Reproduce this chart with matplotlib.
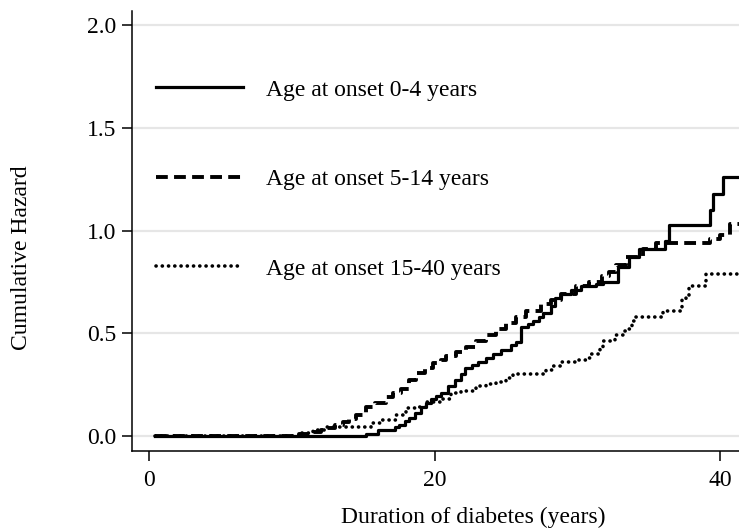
import matplotlib
matplotlib.use("Agg")
import matplotlib.pyplot as plt
from matplotlib.ticker import FormatStrFormatter

plt.rcParams['font.family'] = ['Liberation Serif', 'DejaVu Serif']
plt.rcParams['lines.scale_dashes'] = False

# Nelson-Aalen cumulative hazard, step points (years, hazard)
t_0_4 = [0.4, 15.2, 16.0, 17.2, 17.5, 17.9, 18.2, 18.6, 19.0, 19.4, 19.7, 20.1,
         20.4, 20.9, 21.4, 21.8, 22.1, 22.6, 23.0, 23.6, 24.1, 24.6, 25.3, 25.7,
         26.0, 26.5, 26.9, 27.3, 27.6, 28.1, 28.4, 28.8, 29.5, 30.2, 31.3, 31.8,
         32.8, 33.6, 34.3, 36.1, 36.4, 39.3, 39.5, 40.2, 41.5]
h_0_4 = [0.0, 0.01, 0.03, 0.04, 0.05, 0.07, 0.085, 0.11, 0.14, 0.16, 0.18, 0.195,
         0.21, 0.24, 0.27, 0.30, 0.33, 0.345, 0.36, 0.377, 0.40, 0.42, 0.44, 0.458,
         0.53, 0.545, 0.56, 0.58, 0.60, 0.63, 0.67, 0.69, 0.71, 0.73, 0.74, 0.75,
         0.82, 0.87, 0.91, 0.95, 1.027, 1.10, 1.18, 1.26, 1.26]

t_5_14 = [0.4, 10.5, 11.3, 12.0, 12.4, 13.0, 13.6, 14.0, 14.5, 15.2, 15.8, 16.6,
          17.1, 17.6, 18.2, 18.7, 19.3, 19.9, 20.4, 20.8, 21.5, 22.2, 22.9, 23.6,
          24.3, 25.0, 25.7, 26.4, 27.4, 28.1, 28.8, 29.9, 30.8, 31.7, 32.2, 32.7,
          33.4, 34.6, 35.5, 39.3, 40.0, 40.7, 41.5]
h_5_14 = [0.0, 0.01, 0.02, 0.03, 0.037, 0.05, 0.068, 0.08, 0.10, 0.14, 0.16, 0.19,
          0.21, 0.23, 0.27, 0.305, 0.33, 0.354, 0.37, 0.39, 0.41, 0.43, 0.46, 0.49,
          0.52, 0.548, 0.58, 0.61, 0.64, 0.66, 0.69, 0.73, 0.75, 0.78, 0.80, 0.83,
          0.87, 0.91, 0.94, 0.96, 0.98, 1.03, 1.03]

t_15_40 = [0.4, 10.5, 11.5, 12.4, 15.5, 16.2, 17.3, 18.0, 18.7, 19.4, 20.4, 21.1,
           21.8, 22.9, 23.6, 24.3, 25.0, 25.5, 27.8, 28.3, 28.8, 29.9, 30.6, 30.9,
           31.6, 31.8, 32.6, 33.2, 33.5, 33.8, 34.0, 36.0, 37.3, 37.6, 37.8, 39.0,
           41.5]
h_15_40 = [0.0, 0.013, 0.03, 0.044, 0.06, 0.076, 0.10, 0.133, 0.14, 0.166, 0.18, 0.207,
           0.22, 0.24, 0.25, 0.263, 0.28, 0.30, 0.32, 0.34, 0.36, 0.369, 0.38, 0.40,
           0.43, 0.46, 0.49, 0.51, 0.52, 0.56, 0.58, 0.61, 0.66, 0.67, 0.73, 0.79,
           0.79]

labels = ['Age at onset 0-4 years', 'Age at onset 5-14 years',
          'Age at onset 15-40 years']
y_ticks = [0.0, 0.5, 1.0, 1.5, 2.0]
x_ticks = [0, 20, 40]

fs = 17
fig = plt.figure(figsize=(7.39, 5.28), dpi=100, facecolor='white')
ax = fig.add_axes([132/739, 77/528, 607/739, 440/528])

ax.plot(t_0_4, h_0_4, drawstyle='steps-post', color='black', lw=2.3,
        linestyle='-', label=labels[0])
ax.plot(t_5_14, h_5_14, drawstyle='steps-post', color='black', lw=2.8,
        linestyle=(0, (8.5, 4.5)), label=labels[1])
ax.plot(t_15_40, h_15_40, drawstyle='steps-post', color='black', lw=2.6,
        linestyle=(0, (0.1, 4.4)), dash_capstyle='round', label=labels[2])

ax.set_xlim(-1.21, 41.3)
ax.set_ylim(-0.0746, 2.07)
ax.set_xticks(x_ticks)
ax.set_yticks(y_ticks)
ax.yaxis.set_major_formatter(FormatStrFormatter('%.1f'))
ax.grid(axis='y', color='#e6e6e6', lw=1.6)
ax.set_axisbelow(True)
for s in ['top', 'right']:
    ax.spines[s].set_visible(False)
for s in ['left', 'bottom']:
    ax.spines[s].set_linewidth(1.1)
ax.tick_params(axis='both', direction='out', length=7, width=1.1,
               labelsize=fs, colors='black')
ax.tick_params(axis='y', pad=4)
ax.tick_params(axis='x', pad=7)

leg = ax.legend(loc='upper left', bbox_to_anchor=(156/739, 1 - 79/528),
                bbox_transform=fig.transFigure, frameon=False, fontsize=fs,
                handlelength=3.7, handletextpad=0.95, labelspacing=2.88,
                borderpad=0, borderaxespad=0)

fig.text(473/739, 1 - 517/528, 'Duration of diabetes (years)', ha='center',
         va='center', fontsize=fs)
fig.text(22/739, 1 - 258/528, 'Cumulative Hazard', ha='center', va='center',
         rotation=90, fontsize=fs)

fig.savefig('out.png', dpi=100, facecolor='white')
